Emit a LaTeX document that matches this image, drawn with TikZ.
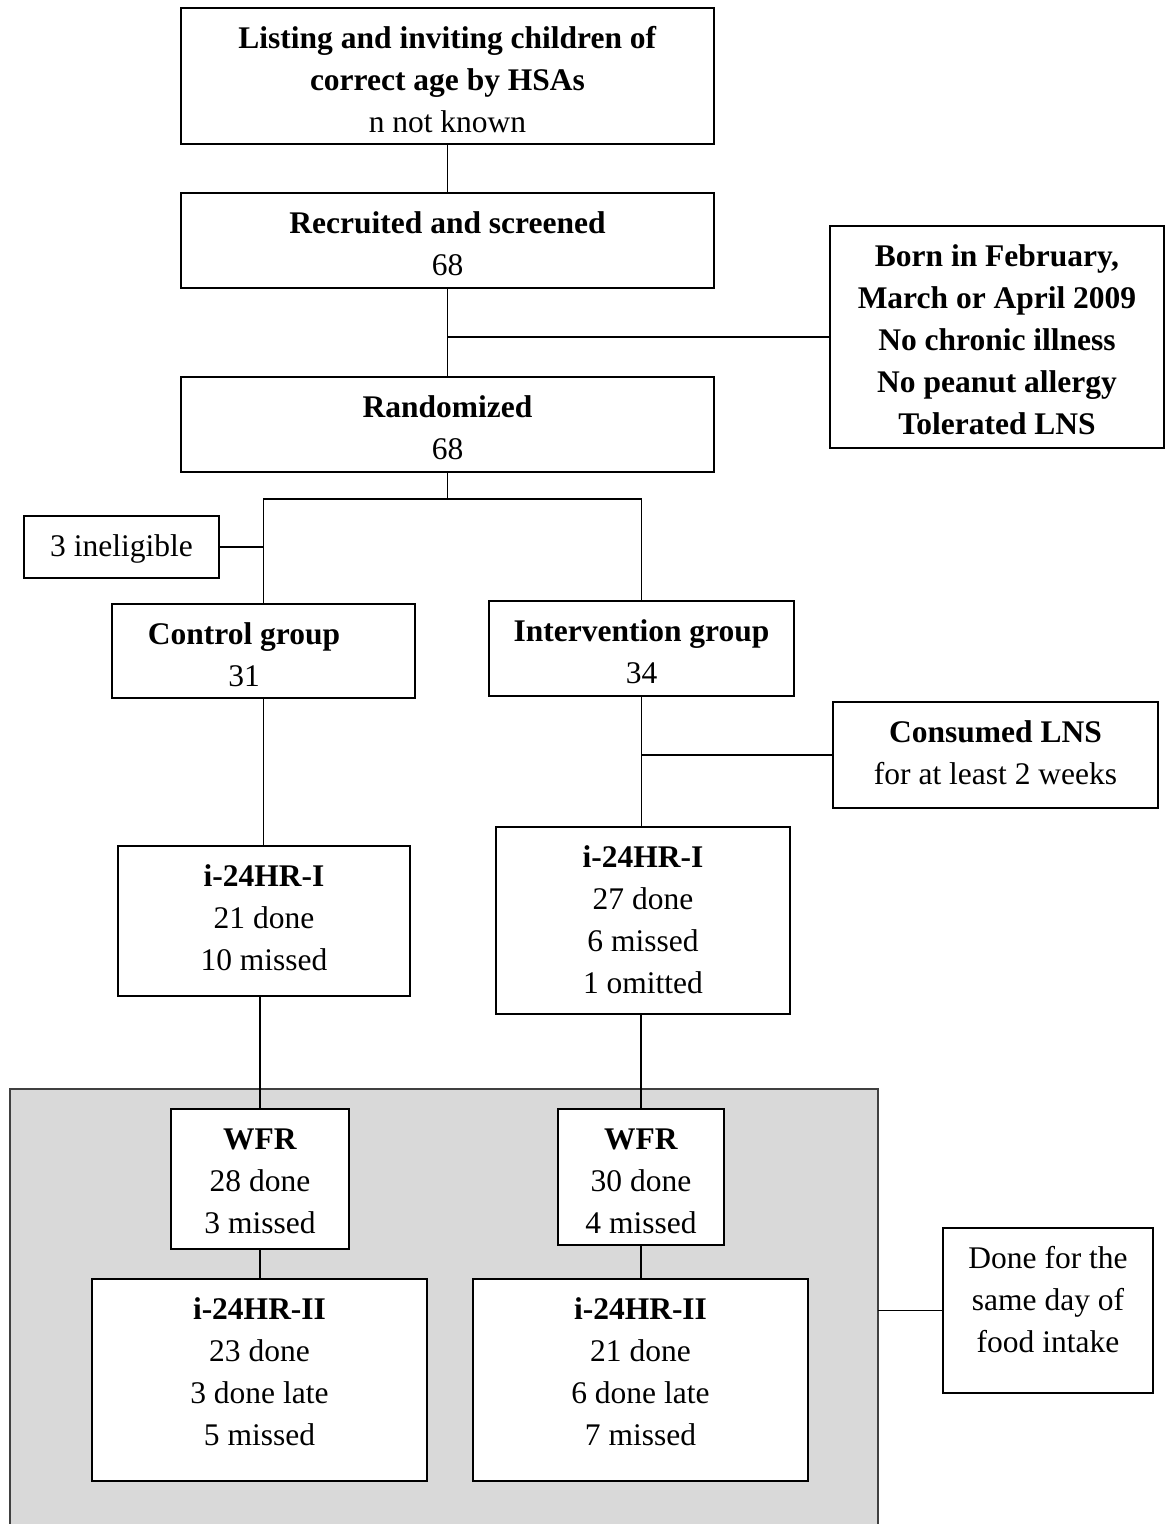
\documentclass[tikz,border=0pt]{standalone}
\usepackage{fontspec}
\setmainfont{Liberation Serif}
\definecolor{panelgray}{HTML}{D9D9D9}
\newcommand\boxcontent[3]{\vbox to #2{\hsize=#1\relax\centering\rule{0pt}{40pt}#3\par\vfill}}
\tikzset{
  flowbox/.style={draw=black, line width=1.7pt, fill=white, inner sep=0pt, outer sep=0pt,
    anchor=north west, font=\fontsize{31.5}{42}\selectfont},
  link/.style={line width=1.7pt, draw=black},
  panel/.style={fill=panelgray, draw=none, inner sep=0pt, outer sep=0pt, anchor=north west},
  paneledge/.style={line width=1.6pt, draw=black!75},
}
\begin{document}
\begin{tikzpicture}[x=1pt,y=-1pt]
\useasboundingbox (0,0) rectangle (1171,1524);

% shaded panel
\node[panel, minimum width=868pt, minimum height=435pt] (grp) at (10,1089) {};
\draw[paneledge] (grp.south west) -- (grp.north west) -- (grp.north east) -- (grp.south east);

% boxes
\node[flowbox] (b1) at (181,8) {\boxcontent{533pt}{136pt}{\textbf{Listing and inviting children of}\\\textbf{correct age by HSAs}\\n not known}};
\node[flowbox] (b2) at (181,193) {\boxcontent{533pt}{95pt}{\textbf{Recruited and screened}\\68}};
\node[flowbox] (side) at (830,226) {\boxcontent{334pt}{222pt}{\textbf{Born in February,}\\\textbf{March or April 2009}\\\textbf{No chronic illness}\\\textbf{No peanut allergy}\\\textbf{Tolerated LNS}}};
\node[flowbox] (b3) at (181,377) {\boxcontent{533pt}{95pt}{\textbf{Randomized}\\68}};
\node[flowbox] (inel) at (24,516) {\boxcontent{195pt}{62pt}{3 ineligible}};
\node[flowbox] (ctrl) at (112,604) {\boxcontent{303pt}{94pt}{\mbox{\textbf{Control group}\kern39pt}\\\mbox{31\kern39pt}}};
\node[flowbox] (intv) at (489,601) {\boxcontent{305pt}{95pt}{\textbf{Intervention group}\\34}};
\node[flowbox] (cons) at (833,702) {\boxcontent{325pt}{106pt}{\textbf{Consumed LNS}\\for at least 2 weeks}};
\node[flowbox] (i1L) at (118,846) {\boxcontent{292pt}{150pt}{\textbf{i-24HR-I}\\21 done\\10 missed}};
\node[flowbox] (i1R) at (496,827) {\boxcontent{294pt}{187pt}{\textbf{i-24HR-I}\\27 done\\6 missed\\1 omitted}};
\node[flowbox] (wL) at (171,1109) {\boxcontent{178pt}{140pt}{\textbf{WFR}\\28 done\\3 missed}};
\node[flowbox] (wR) at (558,1109) {\boxcontent{166pt}{136pt}{\textbf{WFR}\\30 done\\4 missed}};
\node[flowbox] (i2L) at (92,1279) {\boxcontent{335pt}{202pt}{\textbf{i-24HR-II}\\23 done\\3 done late\\5 missed}};
\node[flowbox] (i2R) at (473,1279) {\boxcontent{335pt}{202pt}{\textbf{i-24HR-II}\\21 done\\6 done late\\7 missed}};
\node[flowbox] (done) at (943,1228) {\boxcontent{210pt}{165pt}{Done for the\\same day of\\food intake}};

% connectors
\coordinate (split) at (0,499);
\draw[link] (b1.south) -- (b2.north);
\draw[link] (b2.south) -- (b3.north);
\draw[link] (side.west) -- (side.west -| b2.south);
\draw[link] (b3.south) -- (b3.south |- split);
\draw[link] (ctrl.north) -- (ctrl.north |- split) -- (intv.north |- split) -- (intv.north);
\draw[link] (inel.east) -- (inel.east -| ctrl.north);
\draw[link] (ctrl.south) -- (ctrl.south |- i1L.north);
\draw[link] (intv.south) -- (intv.south |- i1R.north);
\draw[link] (cons.west) -- (cons.west -| intv.south);
\draw[link] (wL.north) -- (wL.north |- i1L.south);
\draw[link] (wR.north) -- (wR.north |- i1R.south);
\draw[link] (wL.south) -- (wL.south |- i2L.north);
\draw[link] (wR.south) -- (wR.south |- i2R.north);
\draw[link] (grp.east |- done.west) -- (done.west);
\end{tikzpicture}
\end{document}
